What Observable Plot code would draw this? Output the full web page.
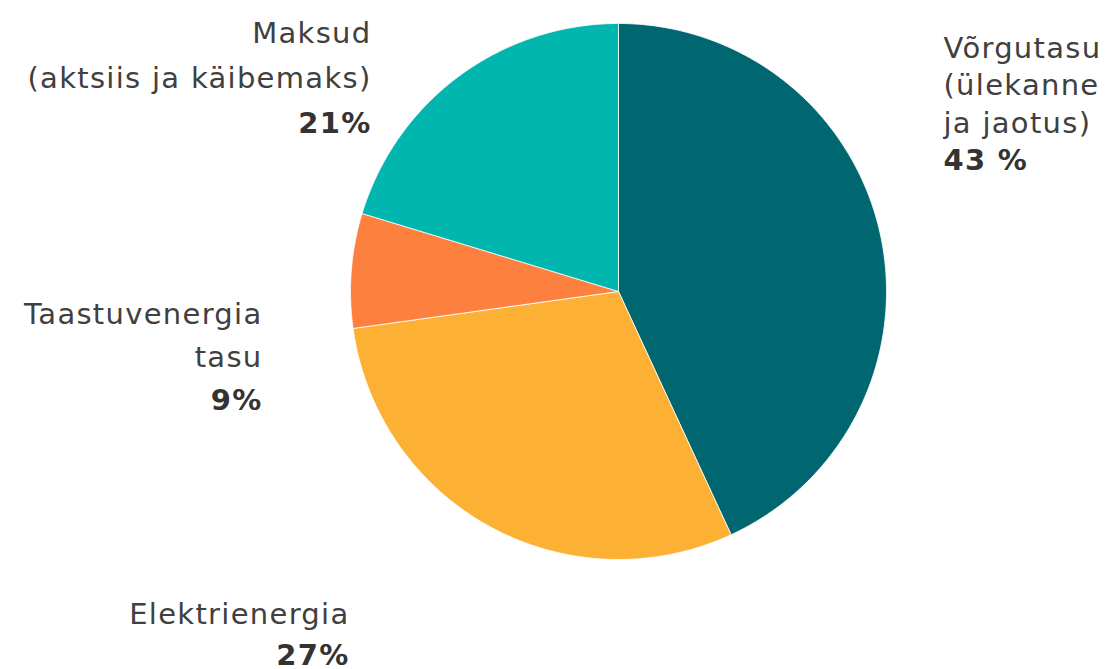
<!DOCTYPE html>
<html>
<head>
<meta charset="utf-8">
<script src="https://cdn.jsdelivr.net/npm/d3@7"></script>
<script src="https://cdn.jsdelivr.net/npm/@observablehq/plot@0.6"></script>
<style>
  html, body { margin: 0; padding: 0; background: #ffffff; }
  #chart svg { display: block; }
  #chart text { letter-spacing: 1.3px; }
</style>
</head>
<body>
<div id="chart"></div>
<script>
// ---- data ----
const categories = ["Võrgutasu", "Elektrienergia", "Taastuvenergia tasu", "Maksud"];
// slice sizes as drawn (share of the full circle, %)
const sliceShares = [43.1, 29.7, 6.9, 20.3];
// percentage labels as printed
const percentLabels = ["43 %", "27%", "9%", "21%"];
// label text lines
const labelLines = [
  ["Võrgutasu", "(ülekanne", "ja jaotus)"],
  ["Elektrienergia"],
  ["Taastuvenergia", "tasu"],
  ["Maksud", "(aktsiis ja käibemaks)"]
];
const colors = ["#006670", "#FCB034", "#FD803F", "#00B6AE"];

// ---- layout (pixels) ----
const W = 1119, H = 669;
const cx = 618, cy = 291, R = 268;
// per-category label anchor: x, text anchor, first baseline, line step
const labelLayout = [
  {x: 943, anchor: "start", y0: 57, step: 37.5},
  {x: 349, anchor: "end", y0: 623, step: 41},
  {x: 262, anchor: "end", y0: 323, step: 43},
  {x: 371, anchor: "end", y0: 42, step: 45}
];

// build slice polygons from shares
const total = d3.sum(sliceShares);
const slicePts = [];
let acc = 0;
categories.forEach((name, i) => {
  const a0 = acc / total * 2 * Math.PI;
  acc += sliceShares[i];
  const a1 = acc / total * 2 * Math.PI;
  slicePts.push({name, x: cx, y: cy});
  const n = Math.max(2, Math.ceil((a1 - a0) / (Math.PI / 360)));
  for (let k = 0; k <= n; k++) {
    const a = a0 + (a1 - a0) * k / n;
    slicePts.push({name, x: cx + R * Math.sin(a), y: cy - R * Math.cos(a)});
  }
  slicePts.push({name, x: cx, y: cy});
});

// label rows
const nameRows = [];
const pctRows = [];
categories.forEach((name, i) => {
  const L = labelLayout[i];
  labelLines[i].forEach((t, j) => nameRows.push({text: t, x: L.x, y: L.y0 + j * L.step, anchor: L.anchor}));
  pctRows.push({text: percentLabels[i], x: L.x, y: L.y0 + labelLines[i].length * L.step, anchor: L.anchor});
});

const font = "'DejaVu Sans', 'Open Sans', sans-serif";

const chart = Plot.plot({
  width: W,
  height: H,
  margin: 0,
  x: {domain: [0, W], range: [0, W], axis: null},
  y: {domain: [0, H], range: [0, H], axis: null},
  color: {domain: categories, range: colors},
  style: {background: "#ffffff", fontFamily: font},
  marks: [
    Plot.line(slicePts, {x: "x", y: "y", z: "name", fill: "name", stroke: "#ffffff", strokeWidth: 1, strokeOpacity: 0.8, curve: "linear"}),
    Plot.text(nameRows.filter(d => d.anchor === "end"), {x: "x", y: "y", text: "text", textAnchor: "end", lineAnchor: "bottom", fontSize: 29, fill: "#404040", fontFamily: font}),
    Plot.text(nameRows.filter(d => d.anchor === "start"), {x: "x", y: "y", text: "text", textAnchor: "start", lineAnchor: "bottom", fontSize: 29, fill: "#404040", fontFamily: font}),
    Plot.text(pctRows.filter(d => d.anchor === "end"), {x: "x", y: "y", text: "text", textAnchor: "end", lineAnchor: "bottom", fontSize: 29, fontWeight: "bold", fill: "#333333", fontFamily: font}),
    Plot.text(pctRows.filter(d => d.anchor === "start"), {x: "x", y: "y", text: "text", textAnchor: "start", lineAnchor: "bottom", fontSize: 29, fontWeight: "bold", fill: "#333333", fontFamily: font})
  ]
});
document.getElementById("chart").appendChild(chart);
</script>
</body>
</html>
